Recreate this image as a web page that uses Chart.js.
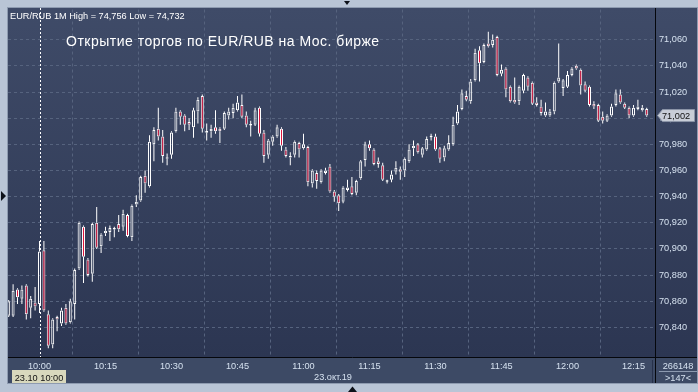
<!DOCTYPE html>
<html><head><meta charset="utf-8">
<script src="https://cdn.jsdelivr.net/npm/chart.js@4/dist/chart.umd.min.js"></script>
<style>html,body{margin:0;padding:0;background:#b9c5d6;overflow:hidden}canvas{display:block}</style>
</head><body><canvas id="c" width="698" height="392"></canvas>
<script>
const times = [
'09:53','09:54','09:55','09:56','09:57','09:58','09:59',
'10:00','10:01','10:02','10:03','10:04','10:05','10:06','10:07','10:08','10:09',
'10:10','10:11','10:12','10:13','10:14','10:15','10:16','10:17','10:18','10:19',
'10:20','10:21','10:22','10:23','10:24','10:25','10:26','10:27','10:28','10:29',
'10:30','10:31','10:32','10:33','10:34','10:35','10:36','10:37','10:38','10:39',
'10:40','10:41','10:42','10:43','10:44','10:45','10:46','10:47','10:48','10:49',
'10:50','10:51','10:52','10:53','10:54','10:55','10:56','10:57','10:58','10:59',
'11:00','11:01','11:02','11:03','11:04','11:05','11:06','11:07','11:08','11:09',
'11:10','11:11','11:12','11:13','11:14','11:15','11:16','11:17','11:18','11:19',
'11:20','11:21','11:22','11:23','11:24','11:25','11:26','11:27','11:28','11:29',
'11:30','11:31','11:32','11:33','11:34','11:35','11:36','11:37','11:38','11:39',
'11:40','11:41','11:42','11:43','11:44','11:45','11:46','11:47','11:48','11:49',
'11:50','11:51','11:52','11:53','11:54','11:55','11:56','11:57','11:58','11:59',
'12:00','12:01','12:02','12:03','12:04','12:05','12:06','12:07','12:08','12:09',
'12:10','12:11','12:12','12:13','12:14','12:15','12:16','12:17','12:18'];

const opens = [
70.849,70.849,70.869,70.862,70.872,70.855,70.859,70.858,70.899,70.850,
70.827,70.848,70.843,70.855,70.844,70.858,70.885,70.917,70.892,70.881,
70.920,70.902,70.912,70.913,70.915,70.919,70.917,70.926,70.909,70.934,
70.937,70.956,70.948,70.980,70.992,70.986,70.969,70.972,70.990,71.005,
71.002,70.997,70.993,71.005,71.017,70.989,70.990,70.993,70.992,70.992,
71.002,71.004,71.006,71.010,71.002,70.995,70.995,71.008,70.989,70.972,
70.982,70.986,70.992,70.976,70.970,70.972,70.981,70.977,70.978,70.950,
70.958,70.951,70.958,70.963,70.944,70.941,70.936,70.945,70.948,70.943,
70.954,70.968,70.980,70.976,70.967,70.964,70.952,70.953,70.959,70.961,
70.960,70.967,70.977,70.980,70.972,70.976,70.986,70.986,70.977,70.970,
70.976,70.980,70.996,71.007,71.017,71.013,71.029,71.052,71.043,71.057,
71.056,71.062,71.034,71.038,71.024,71.014,71.013,71.021,71.031,71.027,
71.012,71.009,71.002,71.002,71.005,71.028,71.023,71.024,71.033,71.040,
71.037,71.026,71.024,71.011,71.010,71.001,70.998,71.002,71.010,71.018,
71.011,71.008,71.002,71.007,71.006,71.007];

const highs = [
70.861,70.873,70.870,70.872,70.873,70.864,70.871,70.906,70.906,70.853,
70.847,70.849,70.855,70.858,70.862,70.885,70.921,70.918,70.893,70.920,
70.932,70.912,70.917,70.918,70.917,70.926,70.930,70.927,70.934,70.941,
70.956,70.960,70.987,70.993,71.008,70.991,70.973,70.990,71.008,71.006,
71.003,71.000,71.008,71.016,71.018,70.996,70.995,71.006,70.993,71.005,
71.008,71.011,71.017,71.018,71.005,70.998,71.008,71.009,70.991,70.984,
70.987,70.995,70.993,70.978,70.974,70.983,70.982,70.988,70.979,70.961,
70.960,70.961,70.962,70.965,70.945,70.942,70.948,70.953,70.955,70.953,
70.968,70.982,70.983,70.977,70.970,70.966,70.953,70.960,70.967,70.963,
70.970,70.980,70.983,70.981,70.978,70.986,70.988,70.988,70.978,70.979,
70.987,71.001,71.010,71.022,71.021,71.030,71.053,71.055,71.057,71.066,
71.064,71.063,71.041,71.039,71.025,71.031,71.025,71.034,71.032,71.028,
71.016,71.014,71.012,71.007,71.028,71.057,71.030,71.036,71.039,71.041,
71.038,71.028,71.025,71.013,71.011,71.005,71.003,71.011,71.022,71.022,
71.012,71.009,71.010,71.014,71.010,71.008];

const lows = [
70.848,70.848,70.858,70.858,70.846,70.847,70.853,70.851,70.852,70.824,
70.824,70.837,70.841,70.842,70.843,70.846,70.884,70.874,70.879,70.875,
70.900,70.897,70.910,70.906,70.909,70.913,70.914,70.909,70.906,70.932,
70.936,70.943,70.947,70.967,70.983,70.966,70.964,70.969,70.989,70.995,
70.990,70.991,70.985,70.996,70.989,70.983,70.985,70.988,70.981,70.991,
70.999,71.000,71.005,71.000,70.993,70.986,70.994,70.986,70.966,70.969,
70.979,70.985,70.975,70.970,70.964,70.970,70.970,70.976,70.948,70.947,
70.946,70.950,70.957,70.943,70.936,70.929,70.935,70.944,70.941,70.941,
70.953,70.963,70.975,70.964,70.962,70.952,70.950,70.951,70.957,70.953,
70.955,70.966,70.971,70.973,70.970,70.975,70.983,70.975,70.966,70.967,
70.975,70.979,70.995,71.006,71.013,71.011,71.028,71.028,71.042,71.054,
71.054,71.032,71.032,71.016,71.012,71.011,71.010,71.019,71.021,71.010,
71.009,71.002,71.001,71.001,71.003,71.027,71.017,71.023,71.032,71.037,
71.018,71.020,71.009,71.007,70.997,70.996,70.997,71.001,71.009,71.011,
71.007,71.000,71.001,71.006,71.005,71.001];

const closes = [
70.860,70.868,70.863,70.869,70.850,70.862,70.856,70.898,70.853,70.826,
70.846,70.846,70.853,70.843,70.860,70.884,70.920,70.894,70.880,70.919,
70.901,70.911,70.914,70.916,70.916,70.915,70.927,70.910,70.933,70.936,
70.955,70.950,70.982,70.991,70.986,70.971,70.970,70.989,71.005,71.001,
70.995,70.995,71.006,71.014,70.992,70.990,70.992,70.990,70.990,71.004,
71.005,71.008,71.012,71.001,70.995,70.995,71.006,70.988,70.971,70.983,
70.986,70.993,70.979,70.971,70.971,70.982,70.976,70.980,70.951,70.960,
70.952,70.960,70.960,70.944,70.940,70.935,70.947,70.947,70.942,70.952,
70.967,70.980,70.977,70.965,70.965,70.953,70.952,70.957,70.962,70.959,
70.969,70.976,70.979,70.974,70.977,70.984,70.986,70.976,70.969,70.977,
70.981,70.995,71.005,71.019,71.014,71.028,71.050,71.042,71.056,71.055,
71.060,71.033,71.037,71.022,71.013,71.012,71.024,71.033,71.024,71.011,
71.010,71.004,71.005,71.005,71.027,71.031,71.029,71.033,71.038,71.038,
71.025,71.021,71.010,71.009,70.998,70.998,71.002,71.009,71.019,71.012,
71.008,71.002,71.008,71.009,71.008,71.002];

const xTickLabels = ['10:00','10:15','10:30','10:45','11:00','11:15','11:30','11:45','12:00','12:15'];
const yTicks = [70.840,70.860,70.880,70.900,70.920,70.940,70.960,70.980,71.000,71.020,71.040,71.060];
const headerText = 'EUR/RUB 1M High = 74,756 Low = 74,732';
const titleText = 'Открытие торгов по EUR/RUB на Мос. бирже';
const dateText = '23.окт.19';
const cursorText = '23.10 10:00';
const lastPriceText = '71,002';
const volText = '266148';
const countText = '>147<';

const toMin = t => { const p = t.split(':').map(Number); return p[0]*60 + p[1] - 600; };
const xs = times.map(toMin);
const xTickVals = xTickLabels.map(toMin);

const RED = '#dc143c';
const upper = xs.map((x,i)=>({x, y:[Math.max(opens[i],closes[i]), highs[i]]}));
const lower = xs.map((x,i)=>({x, y:[lows[i], Math.min(opens[i],closes[i])]}));
const body = xs.map((x,i)=>{
  let a = Math.min(opens[i],closes[i]), b = Math.max(opens[i],closes[i]);
  if (b - a < 0.0012) { const m = (a+b)/2; a = m - 0.0006; b = m + 0.0006; }
  return {x, y:[a,b]};
});
const bodyFill = xs.map((x,i)=>{
  const d = closes[i] - opens[i];
  if (Math.abs(d) < 0.0015) return d < 0 ? RED : '#ffffff';
  return d < 0 ? RED : 'rgba(0,0,0,0)';
});

const FONT = 'Liberation Sans, Arial, sans-serif';
const PL = 8, PT = 8, PR = 655, PB = 357;

const bgPlugin = {
  id: 'bg',
  beforeDraw(chart) {
    const ctx = chart.ctx;
    ctx.save();
    ctx.fillStyle = '#b9c5d6';
    ctx.fillRect(0,0,698,392);
    const g = ctx.createLinearGradient(0, PT, 0, PB);
    g.addColorStop(0, '#3f4b68');
    g.addColorStop(1, '#2c3652');
    ctx.fillStyle = g;
    ctx.fillRect(PL, PT, 697-PL, PB-PT);
    ctx.fillStyle = '#3d4a65';
    ctx.fillRect(PL, PB, 697-PL, 383-PB);
    ctx.strokeStyle = '#8e9bb0';
    ctx.lineWidth = 1;
    ctx.strokeRect(PL-0.5, PT-0.5, 697-PL+1, 383-PT+1);
    ctx.restore();
  },
  afterDraw(chart) {
    const ctx = chart.ctx;
    ctx.save();
    ctx.strokeStyle = '#05070c';
    ctx.lineWidth = 1;
    ctx.beginPath();
    ctx.moveTo(PR+0.5, PT); ctx.lineTo(PR+0.5, 383);
    ctx.moveTo(PL, PB+0.5); ctx.lineTo(697, PB+0.5);
    ctx.stroke();
    ctx.strokeStyle = '#27314a';
    ctx.beginPath(); ctx.moveTo(652.5, 360); ctx.lineTo(652.5, 383); ctx.stroke();
    const cx = Math.round(chart.scales.x.getPixelForValue(0)) + 0.5;
    ctx.strokeStyle = '#ffffff';
    ctx.setLineDash([2,2]);
    ctx.beginPath(); ctx.moveTo(cx, PT); ctx.lineTo(cx, PB); ctx.stroke();
    ctx.setLineDash([]);
    ctx.fillStyle = '#ffffff';
    ctx.font = '9.2px ' + FONT;
    ctx.textBaseline = 'alphabetic';
    ctx.textAlign = 'left';
    ctx.fillText(headerText, 10, 18.5);
    ctx.font = '14px ' + FONT;
    try { ctx.letterSpacing = '0.5px'; } catch(e) {}
    ctx.fillText(titleText, 66, 46);
    try { ctx.letterSpacing = '0px'; } catch(e) {}
    ctx.fillStyle = '#d5e1ef';
    ctx.font = '9.2px ' + FONT;
    ctx.textAlign = 'center';
    ctx.fillText(dateText, 333, 380);
    ctx.fillStyle = '#d8d8bd';
    ctx.fillRect(12, 370, 54, 13);
    ctx.fillStyle = '#111111';
    ctx.fillText(cursorText, 39, 380.5);
    ctx.fillStyle = '#d5e1ef';
    ctx.fillText(volText, 678, 368.5);
    ctx.fillText(countText, 678, 381);
    ctx.strokeStyle = '#8d9ab0';
    ctx.beginPath(); ctx.moveTo(659, 371.5); ctx.lineTo(697, 371.5); ctx.stroke();
    const py = chart.scales.y.getPixelForValue(closes[closes.length-1]);
    ctx.fillStyle = '#c8cdd7';
    ctx.strokeStyle = '#8c95a8';
    ctx.beginPath();
    ctx.moveTo(657.5, py); ctx.lineTo(662.5, py-6); ctx.lineTo(694.5, py-6);
    ctx.lineTo(694.5, py+6); ctx.lineTo(662.5, py+6); ctx.closePath();
    ctx.fill(); ctx.stroke();
    ctx.fillStyle = '#111111';
    ctx.textAlign = 'left';
    ctx.textBaseline = 'middle';
    ctx.fillText(lastPriceText, 662, py+0.5);
    ctx.fillStyle = '#0d1119';
    ctx.beginPath(); ctx.moveTo(1,191); ctx.lineTo(6,196); ctx.lineTo(1,201); ctx.closePath(); ctx.fill();
    ctx.beginPath(); ctx.moveTo(348,392); ctx.lineTo(352.5,386.5); ctx.lineTo(357,392); ctx.closePath(); ctx.fill();
    ctx.beginPath(); ctx.moveTo(344,1); ctx.lineTo(350,1); ctx.lineTo(347,5); ctx.closePath(); ctx.fill();
    ctx.restore();
  }
};

const common = { grouped:false, borderSkipped:false, inflateAmount:0 };
new Chart(document.getElementById('c'), {
  type: 'bar',
  data: {
    datasets: [
      Object.assign({ data: upper, backgroundColor:'#ffffff', borderWidth:0, barThickness:1 }, common),
      Object.assign({ data: lower, backgroundColor:'#ffffff', borderWidth:0, barThickness:1 }, common),
      Object.assign({ data: body, backgroundColor: bodyFill, borderColor:'#ffffff', borderWidth:1, barThickness:3 }, common)
    ]
  },
  options: {
    responsive:false, animation:false, devicePixelRatio:1,
    layout:{ padding:{ left:PL, top:PT, right:1, bottom:392-383 } },
    plugins:{ legend:{display:false}, tooltip:{enabled:false} },
    scales:{
      x:{
        type:'linear', offset:false,
        min: -(39.5-PL)/4.4, max: -(39.5-PL)/4.4 + (PR-PL)/4.4,
        afterBuildTicks: s => { s.ticks = xTickVals.map(v=>({value:v})); },
        afterFit: s => { s.height = 383 - PB; },
        grid:{ color:'#56637e', drawTicks:false, lineWidth:1 },
        border:{ display:false, dash:[3,3] },
        ticks:{ color:'#d5e1ef', font:{family:FONT, size:9.2}, padding:4, maxRotation:0, autoSkip:false,
          callback: v => { const k = xTickVals.indexOf(v); return k >= 0 ? xTickLabels[k] : ''; } }
      },
      y:{
        position:'right',
        min: 70.840 - (PB-327.3)/1313.6, max: 71.060 + (38.3-PT)/1313.6,
        afterBuildTicks: s => { s.ticks = yTicks.map(v=>({value:v})); },
        afterFit: s => { s.width = 697 - PR; },
        grid:{ color:'#56637e', drawTicks:false, lineWidth:1 },
        border:{ display:false, dash:[3,3] },
        ticks:{ color:'#d5e1ef', font:{family:FONT, size:9.2}, padding:4, autoSkip:false,
          callback: v => v.toFixed(3).replace('.', ',') }
      }
    }
  },
  plugins:[bgPlugin]
});
</script></body></html>
